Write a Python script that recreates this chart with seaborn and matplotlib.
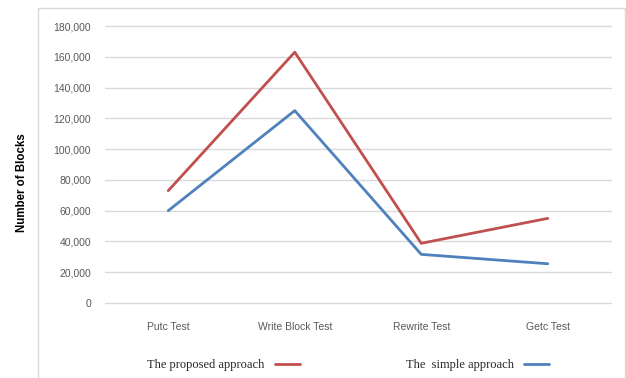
import matplotlib
matplotlib.use("Agg")
import matplotlib.pyplot as plt
from matplotlib.patches import Rectangle
import seaborn as sns
import pandas as pd

# values
tests = ["Putc Test", "Write Block Test", "Rewrite Test", "Getc Test"]
proposed = [73000, 163000, 38800, 55000]
simple = [60000, 125000, 31600, 25500]
series_names = ["The proposed approach", "The  simple approach"]
y_ticks = [0, 20000, 40000, 60000, 80000, 100000, 120000, 140000, 160000, 180000]

df = pd.DataFrame({
	"test": tests * 2,
	"blocks": proposed + simple,
	"series": [series_names[0]] * len(tests) + [series_names[1]] * len(tests),
})

sns.set_style("white")
plt.rcParams["font.family"] = ["Liberation Sans", "DejaVu Sans"]

fig = plt.figure(figsize=(6.26, 3.78), dpi=100)
ax = fig.add_axes([105 / 626, 1 - 303 / 378, 506 / 626, 277 / 378])

sns.lineplot(data=df, x="test", y="blocks", hue="series", sort=False,
	palette=["#C0504D", "#4F81BD"], linewidth=2.0, ax=ax, legend=False)

ax.set_xlim(-0.5, 3.5)
ax.set_ylim(0, 180000)
ax.set_yticks(y_ticks)
ax.set_yticklabels(["{:,}".format(v) for v in y_ticks])
ax.grid(axis="y", color="#d9d9d9", linewidth=1.0)
for gl in ax.get_ygridlines():
	gl.set_clip_on(False)
ax.set_axisbelow(True)
for s in ax.spines.values():
	s.set_visible(False)
ax.tick_params(axis="both", length=0, labelsize=7.5, labelcolor="#595959")
ax.tick_params(axis="y", pad=10)
ax.tick_params(axis="x", pad=14)
ax.set_xlabel("")
ax.set_ylabel("")
fig.text(22 / 626, 1 - 183 / 378, "Number of Blocks", rotation=90, ha="center", va="center",
	fontsize=8.3, fontweight="bold", color="#000000")

# outer chart frame
fig.patches.append(Rectangle((38 / 626, -0.02), 587 / 626, 1.0, transform=fig.transFigure,
	fill=False, edgecolor="#d9d9d9", linewidth=1.0))

handles = ax.get_lines()[:2]
fig.legend(handles, series_names, loc="center", bbox_to_anchor=(348 / 626, 1 - 365 / 378),
	ncol=2, frameon=False, markerfirst=False, handlelength=2.0, handletextpad=0.8,
	columnspacing=8.5, prop={"family": ["Liberation Serif", "DejaVu Serif"], "size": 9})

fig.savefig("out.png", dpi=100)
